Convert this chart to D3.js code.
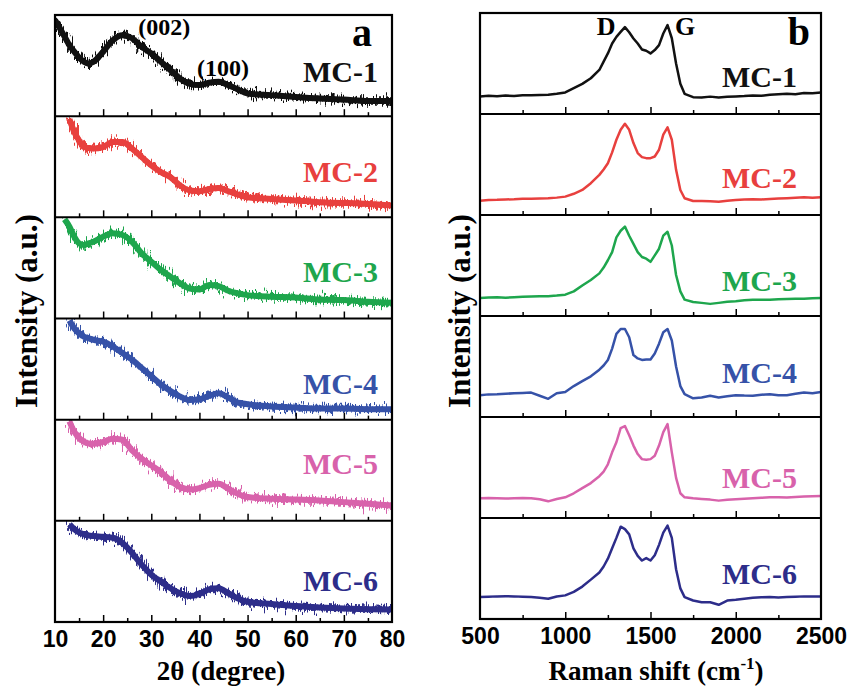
<!DOCTYPE html>
<html>
<head>
<meta charset="utf-8">
<script src="https://cdn.jsdelivr.net/npm/d3@7"></script>
<style>
  body { margin: 0; background: #fff; }
  svg { display: block; }
</style>
</head>
<body>
<div id="chart"></div>
<script>
// ---- data (intensity in % of each sub-panel height) ----
const samples = ["MC-1", "MC-2", "MC-3", "MC-4", "MC-5", "MC-6"];
const colors = ["#111111", "#e8403e", "#1ea64d", "#3652a8", "#d862ab", "#2d2d8a"];

// XRD, 2theta (degree)
const xrdAngle = [10,11,12,13,14,15,16,17,18,20,22,24,26,28,30,32,34,36,38,40,42,44,46,48,50,55,60,65,70,75,80];
const xrdMC1 = [95,87,78.5,70,63.7,58,53.8,52,53.8,63.7,75,80,77,68.6,62,53.8,45.5,37,32,30.7,33,34,30.7,26.4,22.4,20.8,19,17.5,16.5,15,15];
const xrdMC2 = [null,null,null,97,84.4,76,69.5,68.5,68,69.5,74.5,74.5,68,59.6,51.3,44.7,39.7,31.5,26.5,25.8,28,29,25.8,22.5,19.9,18.2,16.6,15,14.2,13.2,11.6];
const xrdMC3 = [null,null,98,90.8,80.9,74.3,72.6,74.3,75.9,80.9,84.2,82.5,75.9,64.4,56.1,47.9,41.3,34.7,29.7,28.7,33,32,27.4,24.8,23.1,21.5,20.8,18.8,18.2,16.5,15.5];
const xrdMC4 = [null,null,null,98,90.2,85.3,82.1,80.5,78.8,77.2,72.3,65.8,59.3,51.1,43,34.9,28.3,22.8,19.5,20.2,23.5,26,21.8,16.9,15.3,13,12,11,11,10.4,10.4];
const xrdMC5 = [null,null,null,98.3,88,82,78.2,76.5,76.2,78,81.2,80.2,69.6,61.4,54.8,48.2,39.9,33.4,31,32.4,35.6,36.6,31.7,26.7,23.5,21.8,21.1,20.1,18.5,16.8,15.1];
const xrdMC6 = [null,null,null,96.5,91.7,88.5,86.7,85.5,85,84.3,83.3,78.3,68.3,56.7,46.7,40,33.3,28.3,25.7,27.7,32.3,33.3,28.3,23.3,20,17.7,15.7,14.3,13.3,12.7,12.3];
const xrdSeries = [xrdMC1, xrdMC2, xrdMC3, xrdMC4, xrdMC5, xrdMC6];
const xrdTicks = [10, 20, 30, 40, 50, 60, 70, 80];

// Raman shift (cm-1)
const ramanShift = [500,550,600,650,700,750,800,850,900,950,1000,1050,1100,1150,1200,
  1225,1250,1275,1300,1325,1350,1375,1400,1425,1450,1475,1500,1525,1550,1575,1600,1625,1650,1675,1700,
  1750,1800,1850,1900,1950,2000,2050,2100,2150,2200,2250,2300,2350,2400,2450,2500];
const ramanMC1 = [17.4,18,17.5,18.2,17.8,18.5,18.6,18.8,19,20,21.3,25.6,29.8,35.4,43.6,
  51.8,60,69.8,76.4,81.3,86,81,74.8,69.8,63.9,62.6,60,63.3,68.2,79.7,88,75,50,30,20,
  16.7,16.4,17.2,16.4,17,17.4,17.8,18.4,18,19,19.5,20,19.6,20.7,20.5,21.3];
const ramanMC2 = [14.2,14.8,15,15.4,15.6,16,16.2,16.4,16.6,17.2,18.2,21,24.8,31.5,39.7,
  45,51.3,62,74.5,84.4,90.4,84.4,71.2,61.3,57.3,56.3,56.3,57.9,64.6,79.5,86.8,74.5,44.7,24.8,16.6,
  13.9,13.9,13.5,13.2,14.2,14.9,15.3,15.6,15.4,15.9,16.3,16.6,17,17.5,17.2,17.5];
const ramanMC3 = [17.9,18.2,18.5,18.1,18.5,19,19.2,19.5,19.5,20.2,21.1,24.4,30.2,35.7,42.2,
  48,55.2,63.3,77.9,84.4,88.6,79.5,71.4,63.3,58.4,56.8,53.6,60,66.6,79.5,83.4,69.8,40.6,24.4,16.2,
  13.9,13,12,13,14,14.6,15.5,16.2,16,16.2,16.6,16.9,17,17.2,17.5,17.9];
const ramanMC4 = [21.6,22.4,22.6,23,23.5,23.8,24.2,21,18,23.5,24.8,30.6,35.5,40.3,46.8,
  51,56.5,67.7,82.3,87.1,87.1,79,61.3,58,56.5,57,57,62.9,72.6,83.9,87.1,75.8,50,30.6,22.6,
  18.5,19.4,21,19.4,20.5,21.6,21.2,21,22,22.6,21.5,21.6,23,24.2,23.5,24.8];
const ramanMC5 = [19.5,19.8,19.5,19.2,19.5,19.8,19.5,18.5,16.5,18.8,20.5,24.5,29.6,34.6,41.4,
  46,53.2,65,75,89,91,82,71.7,63.3,58.3,57.6,58.3,61.6,71.7,85,93,65,39.7,24.5,20.5,
  19.5,18.9,18.2,17.2,18,18.5,19,19.5,20,20.5,20.5,20.2,20.8,21.2,21.5,21.9];
const ramanMC6 = [21.7,22,22.4,22.6,22.4,22,21.7,21,20,22.2,23.4,26.9,32.1,39,46,
  52,59.7,70,80.3,91.4,89,83.8,70,62.4,57.9,60.3,57.9,63.1,73.4,85.5,92.4,80.3,49.3,30.3,21.7,
  18.3,16.6,16.6,14.1,18.3,19,20,21,21.5,21.7,21.3,21.7,22,22.4,22.2,22.4];
const ramanSeries = [ramanMC1, ramanMC2, ramanMC3, ramanMC4, ramanMC5, ramanMC6];
const ramanTicks = [500, 1000, 1500, 2000, 2500];

// ---- layout ----
const W = 850, H = 687;
const serif = "'Liberation Serif', 'Times New Roman', serif";
const sans = "'Liberation Sans', Arial, sans-serif";

const svg = d3.select("#chart").append("svg")
    .attr("width", W)
    .attr("height", H);

// grain filters: give the XRD traces their noisy band look
const defs = svg.append("defs");
function addGrain(id, seed, freq, scale) {
    const f = defs.append("filter")
        .attr("id", id)
        .attr("filterUnits", "userSpaceOnUse")
        .attr("x", 0).attr("y", 0).attr("width", W).attr("height", H);
    f.append("feTurbulence")
        .attr("type", "fractalNoise")
        .attr("baseFrequency", freq)
        .attr("numOctaves", 2)
        .attr("seed", seed)
        .attr("result", "n");
    f.append("feDisplacementMap")
        .attr("in", "SourceGraphic")
        .attr("in2", "n")
        .attr("scale", scale)
        .attr("xChannelSelector", "G")
        .attr("yChannelSelector", "R");
}
addGrain("grain1", 4, "1.1 0.05", 24);
addGrain("grain2", 11, "0.7 0.08", 16);

// draws one stacked panel (6 sub-panels sharing an x axis)
function drawPanel(cfg) {
    const x = d3.scaleLinear().domain(cfg.domain).range([cfg.left, cfg.right]);
    const subH = (cfg.bottom - cfg.top) / samples.length;
    const g = svg.append("g");

    samples.forEach((name, i) => {
        const top = cfg.top + i * subH;
        const bot = top + subH;
        const y = d3.scaleLinear().domain([0, 100]).range([bot, top]);

        const clipId = cfg.id + "-clip-" + i;
        defs.append("clipPath").attr("id", clipId)
            .append("rect")
            .attr("x", cfg.left).attr("y", top)
            .attr("width", cfg.right - cfg.left).attr("height", subH);

        const pts = cfg.xs.map((v, k) => [v, cfg.series[i][k]]);
        const line = d3.line()
            .defined(d => d[1] !== null)
            .curve(cfg.curve)
            .x(d => x(d[0]))
            .y(d => y(d[1]));

        const lg = g.append("g").attr("clip-path", `url(#${clipId})`);
        if (cfg.noisy) {
            ["grain1", "grain2"].forEach(fid => {
                lg.append("path")
                    .attr("d", line(pts))
                    .attr("fill", "none")
                    .attr("stroke", colors[i])
                    .attr("stroke-width", 3.5)
                    .attr("filter", `url(#${fid})`);
            });
            lg.append("path")
                .attr("d", line(pts))
                .attr("fill", "none")
                .attr("stroke", colors[i])
                .attr("stroke-width", 6);
        } else {
            lg.append("path")
                .attr("d", line(pts))
                .attr("fill", "none")
                .attr("stroke", colors[i])
                .attr("stroke-width", 2.5)
                .attr("stroke-linejoin", "round");
        }

        // inward ticks along the bottom of every sub-panel
        g.append("g")
            .attr("transform", `translate(0,${bot})`)
            .call(d3.axisBottom(x).tickValues(cfg.minor).tickSize(-4).tickFormat(""))
            .call(a => a.select(".domain").remove())
            .call(a => a.selectAll("line").attr("stroke-width", 1.5));
        g.append("g")
            .attr("transform", `translate(0,${bot})`)
            .call(d3.axisBottom(x).tickValues(cfg.major).tickSize(-7).tickFormat(""))
            .call(a => a.select(".domain").remove())
            .call(a => a.selectAll("line").attr("stroke-width", 1.5));

        // divider between sub-panels
        if (i > 0) {
            g.append("line")
                .attr("x1", cfg.left).attr("x2", cfg.right)
                .attr("y1", top).attr("y2", top)
                .attr("stroke", "#000").attr("stroke-width", 2);
        }

        // sample label
        g.append("text")
            .attr("x", cfg.labelX)
            .attr("y", top + cfg.labelDy[i])
            .attr("text-anchor", "end")
            .attr("font-family", serif)
            .attr("font-weight", "bold")
            .attr("font-size", 30)
            .attr("fill", colors[i])
            .text(name);
    });

    // frame
    g.append("rect")
        .attr("x", cfg.left).attr("y", cfg.top)
        .attr("width", cfg.right - cfg.left).attr("height", cfg.bottom - cfg.top)
        .attr("fill", "none").attr("stroke", "#000").attr("stroke-width", 2.2);

    // tick labels
    g.append("g")
        .attr("transform", `translate(0,${cfg.bottom})`)
        .call(d3.axisBottom(x).tickValues(cfg.labels).tickSize(0).tickFormat(d3.format("d")))
        .call(a => a.select(".domain").remove())
        .call(a => a.selectAll("text")
            .attr("y", 25).attr("dy", null)
            .attr("font-family", sans)
            .attr("font-weight", "bold")
            .attr("font-size", 23)
            .attr("fill", "#000"));

    // y title
    g.append("text")
        .attr("transform", `translate(${cfg.yTitleX},${cfg.yTitleY}) rotate(-90)`)
        .attr("text-anchor", "middle")
        .attr("font-family", serif)
        .attr("font-weight", "bold")
        .attr("font-size", 31)
        .text("Intensity (a.u.)");

    return {g, x};
}

// ---- panel a: XRD ----
const pa = drawPanel({
    id: "a", left: 55, right: 392, top: 15, bottom: 622,
    domain: [10, 80], xs: xrdAngle, series: xrdSeries, curve: d3.curveMonotoneX, noisy: true,
    major: [20, 30, 40, 50, 60, 70], minor: [15, 25, 35, 45, 55, 65, 75], labels: xrdTicks,
    labelX: 378, labelDy: [67, 66, 65, 75, 54, 70],
    yTitleX: 37, yTitleY: 311
});

pa.g.append("text")
    .attr("x", pa.x(27.3)).attr("y", 35)
    .attr("font-family", serif).attr("font-weight", "bold").attr("font-size", 24)
    .text("(002)");
pa.g.append("text")
    .attr("x", pa.x(39.5)).attr("y", 76)
    .attr("font-family", serif).attr("font-weight", "bold").attr("font-size", 24)
    .text("(100)");
pa.g.append("text")
    .attr("x", 372).attr("y", 46).attr("text-anchor", "end")
    .attr("font-family", serif).attr("font-weight", "bold").attr("font-size", 40)
    .text("a");
pa.g.append("text")
    .attr("x", 221).attr("y", 680).attr("text-anchor", "middle")
    .attr("font-family", serif).attr("font-weight", "bold").attr("font-size", 27)
    .text("2θ (degree)");

// ---- panel b: Raman ----
const pb = drawPanel({
    id: "b", left: 480, right: 821, top: 13, bottom: 619,
    domain: [500, 2500], xs: ramanShift, series: ramanSeries, curve: d3.curveLinear, noisy: false,
    major: [1000, 1500, 2000], minor: [750, 1250, 1750, 2250], labels: ramanTicks,
    labelX: 797, labelDy: [74, 74, 76, 67, 71, 66],
    yTitleX: 470, yTitleY: 311
});

pb.g.append("text")
    .attr("x", pb.x(1295)).attr("y", 35).attr("text-anchor", "end")
    .attr("font-family", serif).attr("font-weight", "bold").attr("font-size", 26)
    .text("D");
pb.g.append("text")
    .attr("x", pb.x(1644)).attr("y", 35)
    .attr("font-family", serif).attr("font-weight", "bold").attr("font-size", 26)
    .text("G");
pb.g.append("text")
    .attr("x", 810).attr("y", 45).attr("text-anchor", "end")
    .attr("font-family", serif).attr("font-weight", "bold").attr("font-size", 40)
    .text("b");

const rt = pb.g.append("text")
    .attr("x", 656).attr("y", 680).attr("text-anchor", "middle")
    .attr("font-family", serif).attr("font-weight", "bold").attr("font-size", 27);
rt.append("tspan").text("Raman shift (cm");
rt.append("tspan").attr("font-size", 17).attr("dy", -11).text("-1");
rt.append("tspan").attr("dy", 11).text(")");
</script>
</body>
</html>
